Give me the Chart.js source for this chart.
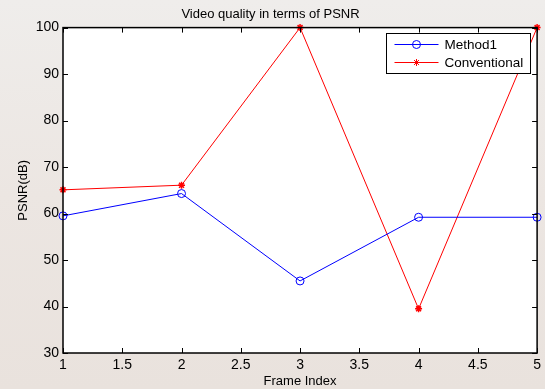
<!DOCTYPE html>
<html lang="en">
<head>
    <meta charset="UTF-8">
    <title>Video quality in terms of PSNR</title>
    <script src="https://cdn.jsdelivr.net/npm/chart.js@4/dist/chart.umd.min.js"></script>
    <style>
        html, body { margin: 0; padding: 0; }
        body { width: 545px; height: 389px; overflow: hidden; }
    </style>
</head>
<body>
    <canvas id="psnrChart" width="545" height="389"></canvas>
    <script>
        // data
        var frames = [1, 2, 3, 4, 5];
        var method1 = [59.5, 64.3, 45.5, 59.2, 59.2];
        var conventional = [65.1, 66.1, 100, 39.5, 100];
        var xTicks = [1, 1.5, 2, 2.5, 3, 3.5, 4, 4.5, 5];
        var yTicks = [30, 40, 50, 60, 70, 80, 90, 100];

        var FONT = '"Liberation Sans", Arial, sans-serif';

        function toPoints(xs, ys) {
            var pts = [];
            for (var i = 0; i < xs.length; i++) {
                pts.push({x: xs[i], y: ys[i]});
            }
            return pts;
        }

        // page background + white axes box
        var bgPlugin = {
            id: 'bg',
            beforeDraw: function (chart) {
                var c = chart.ctx, a = chart.chartArea;
                var g = c.createLinearGradient(0, 0, 0, chart.height);
                g.addColorStop(0, '#efedeb');
                g.addColorStop(0.5, '#ece6e2');
                g.addColorStop(1, '#e9e2dd');
                c.save();
                c.fillStyle = g;
                c.fillRect(0, 0, chart.width, chart.height);
                c.fillStyle = '#ffffff';
                c.fillRect(a.left, a.top, a.right - a.left, a.bottom - a.top);
                c.restore();
            }
        };

        // matlab style box, inward ticks and legend
        var boxPlugin = {
            id: 'box',
            afterDraw: function (chart) {
                var c = chart.ctx, a = chart.chartArea;
                var xs = chart.scales.x, ys = chart.scales.y;
                var tl = 5;
                c.save();
                c.strokeStyle = '#000';
                c.lineWidth = 1;
                c.beginPath();
                xTicks.forEach(function (v) {
                    var px = Math.round(xs.getPixelForValue(v)) + 0.5;
                    c.moveTo(px, a.bottom); c.lineTo(px, a.bottom - tl);
                    c.moveTo(px, a.top); c.lineTo(px, a.top + tl);
                });
                yTicks.forEach(function (v) {
                    var py = Math.round(ys.getPixelForValue(v)) + 0.5;
                    c.moveTo(a.left, py); c.lineTo(a.left + tl, py);
                    c.moveTo(a.right, py); c.lineTo(a.right - tl, py);
                });
                c.stroke();
                c.lineWidth = 1.5;
                c.strokeRect(a.left, a.top, a.right - a.left, a.bottom - a.top);

                // legend
                var lw = 144, lh = 40;
                var lx = Math.round(a.right - 7 - lw) + 0.5, ly = Math.round(a.top + 5) + 0.5;
                c.fillStyle = '#fff';
                c.fillRect(lx, ly, lw, lh);
                c.lineWidth = 1;
                c.strokeStyle = '#000';
                c.strokeRect(lx, ly, lw, lh);
                c.font = '13.5px ' + FONT;
                c.textBaseline = 'middle';
                chart.data.datasets.forEach(function (ds, i) {
                    var yy = ly + 11 + i * 18;
                    c.strokeStyle = ds.borderColor;
                    c.fillStyle = ds.pointBackgroundColor;
                    c.lineWidth = 1;
                    c.beginPath();
                    c.moveTo(lx + 8, yy); c.lineTo(lx + 52, yy);
                    c.stroke();
                    Chart.helpers.drawPoint(c, {
                        pointStyle: ds.pointStyle,
                        radius: ds.pointRadius,
                        borderWidth: 1
                    }, lx + 30, yy);
                    c.fillStyle = '#000';
                    c.fillText(ds.label, lx + 58, yy + 1);
                });
                c.restore();
            }
        };

        function plainTick(v) { return String(v); }

        var ctx = document.getElementById('psnrChart');
        var chart = new Chart(ctx, {
            type: 'line',
            data: {
                datasets: [{
                    label: 'Method1',
                    data: toPoints(frames, method1),
                    borderColor: '#0000ff',
                    backgroundColor: 'transparent',
                    pointBackgroundColor: 'transparent',
                    pointBorderColor: '#0000ff',
                    pointStyle: 'circle',
                    pointRadius: 4,
                    borderWidth: 1,
                    pointBorderWidth: 1,
                    tension: 0
                }, {
                    label: 'Conventional',
                    data: toPoints(frames, conventional),
                    borderColor: '#ff0000',
                    backgroundColor: 'transparent',
                    pointBackgroundColor: '#ff0000',
                    pointBorderColor: '#ff0000',
                    pointStyle: 'star',
                    pointRadius: 3.5,
                    borderWidth: 1,
                    pointBorderWidth: 1.5,
                    tension: 0
                }]
            },
            options: {
                responsive: false,
                animation: false,
                clip: false,
                layout: { padding: { left: 0, right: 4, top: 0, bottom: 0 } },
                plugins: {
                    legend: { display: false },
                    tooltip: { enabled: false },
                    title: {
                        display: true,
                        text: 'Video quality in terms of PSNR',
                        color: '#000',
                        font: { family: FONT, size: 13, weight: 'normal' },
                        padding: { top: 7, bottom: 5 }
                    }
                },
                scales: {
                    x: {
                        type: 'linear',
                        min: 1,
                        max: 5,
                        afterBuildTicks: function (s) {
                            s.ticks = xTicks.map(function (v) { return {value: v}; });
                        },
                        afterFit: function (s) { s.height = 36; },
                        grid: { display: false, drawTicks: false },
                        border: { display: false },
                        ticks: {
                            color: '#000',
                            padding: 4,
                            maxRotation: 0,
                            autoSkip: false,
                            callback: plainTick,
                            font: { family: FONT, size: 14 }
                        },
                        title: {
                            display: true,
                            text: 'Frame Index',
                            color: '#000',
                            font: { family: FONT, size: 13 },
                            padding: { top: -2, bottom: 0 }
                        }
                    },
                    y: {
                        min: 30,
                        max: 100,
                        afterBuildTicks: function (s) {
                            s.ticks = yTicks.map(function (v) { return {value: v}; });
                        },
                        afterFit: function (s) { s.width = 63; },
                        grid: { display: false, drawTicks: false },
                        border: { display: false },
                        ticks: {
                            color: '#000',
                            padding: 4,
                            callback: plainTick,
                            font: { family: FONT, size: 14 }
                        },
                        title: {
                            display: true,
                            text: 'PSNR(dB)',
                            color: '#000',
                            font: { family: FONT, size: 13 },
                            padding: { top: 16, bottom: 0 }
                        }
                    }
                }
            },
            plugins: [bgPlugin, boxPlugin]
        });
    </script>
</body>
</html>
